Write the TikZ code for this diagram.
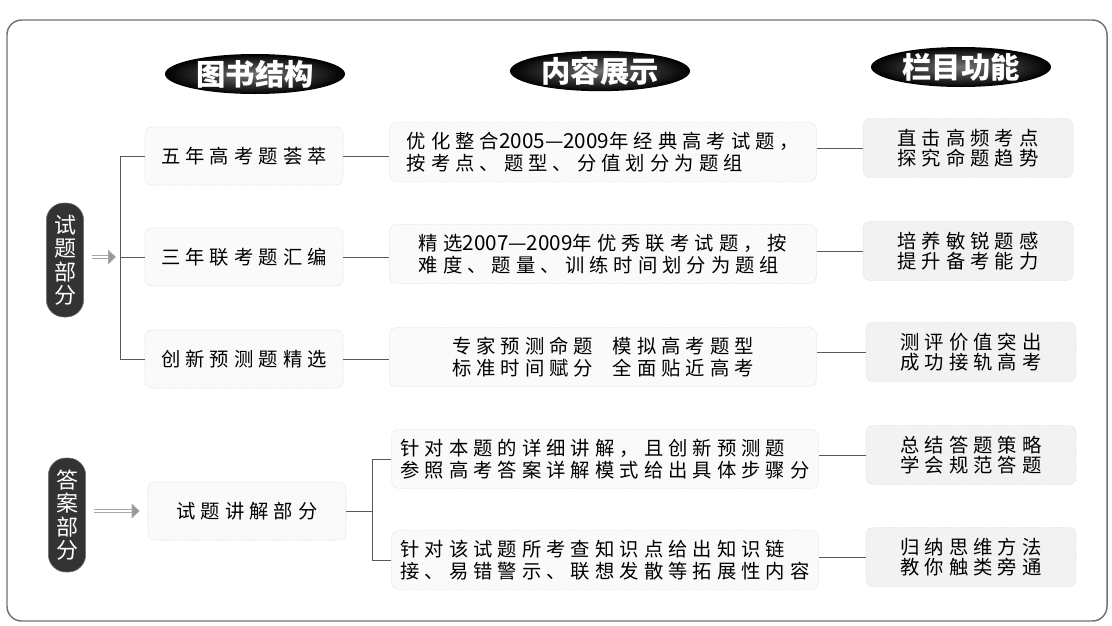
\documentclass[tikz,border=0pt]{standalone}
\usepackage{fontspec}
\usetikzlibrary{arrows.meta,shapes.geometric,shadings}
\newfontfamily\cjk[LetterSpace=26]{Noto Sans CJK SC}
\newfontfamily\cjkhead{Noto Sans CJK SC}
\newcommand\dg[1]{{\cjkhead\fontsize{15.5}{16.5}\selectfont #1}}
\tikzset{
  box/.style={draw=black!22, densely dotted, fill=black!2, rounded corners=5pt,
    align=left, font=\cjk\fontsize{14.5}{16.5}\selectfont, inner sep=0pt},
  lbox/.style={box, minimum width=148.5pt, minimum height=43.5pt},
  mbox/.style={box, minimum width=320pt, minimum height=44pt},
  rbox/.style={box, fill=black!5, minimum width=157.5pt, minimum height=44pt,
    font=\cjk\fontsize{14.5}{15.5}\selectfont},
  head/.style={ellipse, inner color=black!55, outer color=black, minimum width=135pt,
    minimum height=30pt, inner sep=0pt, text=white,
    font=\cjkhead\bfseries\fontsize{22}{22}\selectfont},
  pill/.style={fill=black!80, draw=black!55, rounded corners=13pt, minimum width=28pt,
    minimum height=85.5pt, inner sep=0pt, text=white, align=center,
    font=\cjkhead\fontsize{16.5}{17.6}\selectfont},
  conn/.style={draw=black!65, line width=0.6pt},
  darr/.style={draw=black!35, double=white, double distance=2pt, line width=0.6pt,
    -{Triangle[length=6pt,width=11pt,fill=black!40]}},
  frame/.style={draw=black!55, line width=1.1pt, rounded corners=11pt}
}
\begin{document}
\begin{tikzpicture}[x=0.75pt,y=-0.75pt]
\useasboundingbox[fill=white] (0,0) rectangle (1112,625);
\draw[frame] (7,20) rectangle (1107,621);

% headers
\node[head] (h1) at (255,74) {图书结构};
\node[head] (h2) at (600,71) {内容展示};
\node[head] (h3) at (961,67) {栏目功能};

% pills
\node[pill] (p1) at (65,260) {试\\题\\部\\分};
\node[pill] (p2) at (67,515) {答\\案\\部\\分};

% left boxes
\node[lbox] (l1) at (244,156) {五年高考题荟萃};
\node[lbox] (l2) at (244,257) {三年联考题汇编};
\node[lbox] (l3) at (244,359) {创新预测题精选};
\node[lbox] (l4) at (247,511) {试题讲解部分};

% middle boxes
\node[mbox] (m1) at (603,152) {优化整合\dg{2005—2009}年经典高考试题，\\按考点、题型、分值划分为题组};
\node[mbox] (m2) at (603,254) {精选\dg{2007—2009}年优秀联考试题，按\\难度、题量、训练时间划分为题组};
\node[mbox] (m3) at (603,357) {专家预测命题\quad 模拟高考题型\\标准时间赋分\quad 全面贴近高考};
\node[mbox] (m4) at (605,459) {针对本题的详细讲解，且创新预测题\\参照高考答案详解模式给出具体步骤分};
\node[mbox] (m5) at (605,560) {针对该试题所考查知识点给出知识链\\接、易错警示、联想发散等拓展性内容};

% right boxes
\node[rbox] (r1) at (968,148) {直击高频考点\\探究命题趋势};
\node[rbox] (r2) at (968,251) {培养敏锐题感\\提升备考能力};
\node[rbox] (r3) at (971,352) {测评价值突出\\成功接轨高考};
\node[rbox] (r4) at (971,455) {总结答题策略\\学会规范答题};
\node[rbox] (r5) at (971,557) {归纳思维方法\\教你触类旁通};

% left bracket
\coordinate (lb) at (120,257);
\draw[conn] (l1.west) -- (l1.west -| lb) -- (l3.west -| lb) -- (l3.west);
\draw[conn] (lb) -- (l2.west);
\draw[darr, shorten <=6pt, shorten >=3pt] (p1.east |- lb) -- (lb);

% answer arrow
\draw[darr, shorten <=6pt, shorten >=6pt] (p2.east |- l4.west) -- (l4.west);

% left -> middle
\draw[conn] (l1.east) -- (l1.east -| m1.west);
\draw[conn] (l2.east) -- (l2.east -| m2.west);
\draw[conn] (l3.east) -- (l3.east -| m3.west);

% answer bracket
\coordinate (ab) at (372,511);
\draw[conn] (l4.east) -- (ab);
\draw[conn] (m4.west) -- (m4.west -| ab) -- (m5.west -| ab) -- (m5.west);

% middle -> right
\draw[conn] (r1.west -| m1.east) -- (r1.west);
\draw[conn] (r2.west -| m2.east) -- (r2.west);
\draw[conn] (r3.west -| m3.east) -- (r3.west);
\draw[conn] (r4.west -| m4.east) -- (r4.west);
\draw[conn] (r5.west -| m5.east) -- (r5.west);
\end{tikzpicture}
\end{document}
